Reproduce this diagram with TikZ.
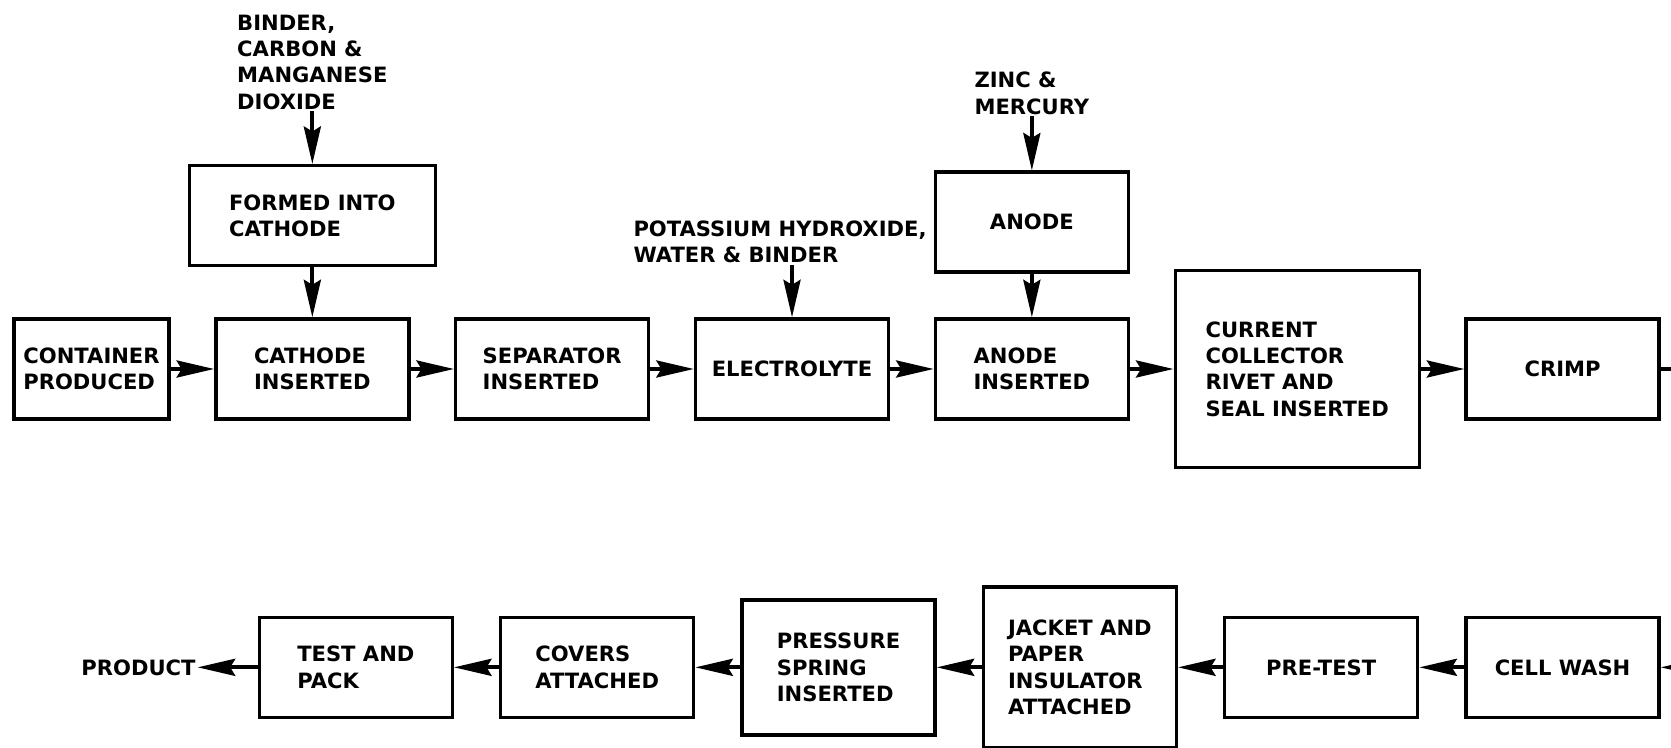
\documentclass[tikz,border=0pt]{standalone}
\usepackage{fontspec}
\setmainfont{DejaVu Sans}
\usetikzlibrary{positioning, arrows.meta}
\tikzset{
  block/.style={draw, line width=1.9pt, minimum height=2cm, minimum width=3.86cm, align=left, font=\bfseries\fontsize{12}{15}\selectfont},
  feed/.style={align=left, inner sep=1pt, font=\bfseries\fontsize{12}{15}\selectfont},
  arr/.style={-{Stealth[length=7.5mm, width=3.4mm, inset=1mm]}, line width=2.2pt}
}
\begin{document}
\begin{tikzpicture}[node distance=8.7mm and 8.7mm]
\useasboundingbox (0,0) rectangle (33.42,-14.96);
\node[block, minimum width=3.1cm] (cont) at (1.83,-7.38) {CONTAINER\\PRODUCED};
\node[block, right=of cont] (cath) {CATHODE\\INSERTED};
\node[block, right=of cath] (sep) {SEPARATOR\\INSERTED};
\node[block, right=of sep] (elec) {ELECTROLYTE};
\node[block, right=of elec] (anin) {ANODE\\INSERTED};
\node[block, right=of anin, minimum width=4.88cm, minimum height=3.94cm] (coll) {CURRENT\\COLLECTOR\\RIVET AND\\SEAL INSERTED};
\node[block, right=of coll] (crimp) {CRIMP};
\node[block, above=10mm of cath, minimum width=4.92cm] (form) {FORMED INTO\\CATHODE};
\node[block, above=of anin] (anode) {ANODE};
\node[feed, above=10.5mm of form] (bind) {BINDER,\\CARBON \&\\MANGANESE\\DIOXIDE};
\node[feed, above=10.5mm of elec, xshift=-2.4mm] (koh) {POTASSIUM HYDROXIDE,\\WATER \& BINDER};
\node[feed, above=10.8mm of anode] (zinc) {ZINC \&\\MERCURY};
\node[block, below=3.9cm of crimp] (wash) {CELL WASH};
\node[block, left=9mm of wash] (pre) {PRE-TEST};
\node[block, left=9mm of pre, minimum height=3.22cm] (jack) {JACKET AND\\PAPER\\INSULATOR\\ATTACHED};
\node[block, left=9mm of jack, minimum height=2.7cm] (spring) {PRESSURE\\SPRING\\INSERTED};
\node[block, left=9mm of spring] (cov) {COVERS\\ATTACHED};
\node[block, left=9mm of cov] (pack) {TEST AND\\PACK};
\node[feed, left=12mm of pack] (prod) {PRODUCT};
\coordinate[right=6mm of crimp] (edge);
\draw[arr] (cont) -- (cath);
\draw[arr] (cath) -- (sep);
\draw[arr] (sep) -- (elec);
\draw[arr] (elec) -- (anin);
\draw[arr] (anin) -- (coll);
\draw[arr] (coll) -- (crimp);
\draw[arr] (bind) -- (form);
\draw[arr] (form) -- (cath);
\draw[arr] (koh.south -| elec.north) -- (elec);
\draw[arr] (zinc) -- (anode);
\draw[arr] (anode) -- (anin);
\draw[arr] (crimp) -- (edge) |- (wash.east);
\draw[arr] (wash) -- (pre);
\draw[arr] (pre) -- (jack);
\draw[arr] (jack) -- (spring);
\draw[arr] (spring) -- (cov);
\draw[arr] (cov) -- (pack);
\draw[arr] (pack) -- (prod);
\end{tikzpicture}
\end{document}
